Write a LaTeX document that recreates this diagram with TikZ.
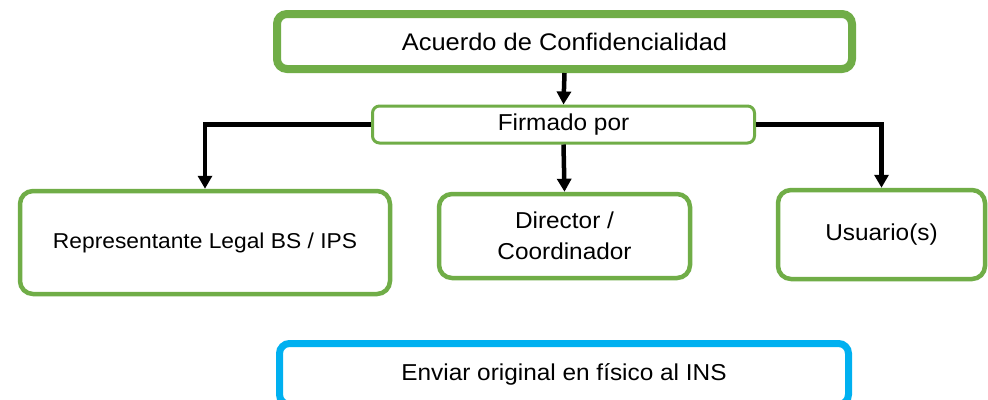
\documentclass[tikz,border=0pt]{standalone}
\usepackage{fontspec}
\setmainfont{Liberation Sans}[FakeStretch=1.06]
\usetikzlibrary{arrows.meta}
\definecolor{grn}{HTML}{70AD47}
\definecolor{blu}{HTML}{00B0F0}
\begin{document}
\begin{tikzpicture}[x=1pt,y=-1pt,
  every node/.style={inner sep=0pt, align=center, font=\fontsize{23}{31}\selectfont, fill=white},
  gbox/.style={draw=grn, line width=4.5pt, rounded corners=13pt},
  conn/.style={draw=black, line width=4.5pt, -{Triangle[width=14pt,length=13pt]}},
  ]
\useasboundingbox[fill=white] (0,0) rectangle (988,399);
\node[draw=grn, line width=8pt, rounded corners=10pt, minimum width=575pt, minimum height=55pt,
      font=\fontsize{24}{30}\selectfont] (top) at (564.5,41.5) {Acuerdo de Confidencialidad};
\node[draw=grn, line width=3pt, rounded corners=7pt, minimum width=382pt, minimum height=37pt] (firm) at (563.5,124.5) {Firmado por};
\node[gbox, minimum width=370pt, minimum height=103pt, font=\fontsize{21.5}{29}\selectfont] (rep) at (205,242.5) {Representante Legal BS / IPS};
\node[gbox, minimum width=251pt, minimum height=84pt] (dir) at (564.5,236) {Director /\\Coordinador};
\node[gbox, minimum width=207pt, minimum height=89pt] (usu) at (881.5,234.5) {Usuario(s)};
\node[draw=blu, line width=7pt, rounded corners=10pt, minimum width=569pt, minimum height=61pt] (env) at (564,374) {Enviar original en físico al INS};
\draw[conn] (top.south) -- (firm.north);
\draw[conn] (firm.west) -| (rep.north);
\draw[conn] (firm.east) -| (usu.north);
\draw[conn] (firm.south) -- (dir.north);
\end{tikzpicture}
\end{document}
